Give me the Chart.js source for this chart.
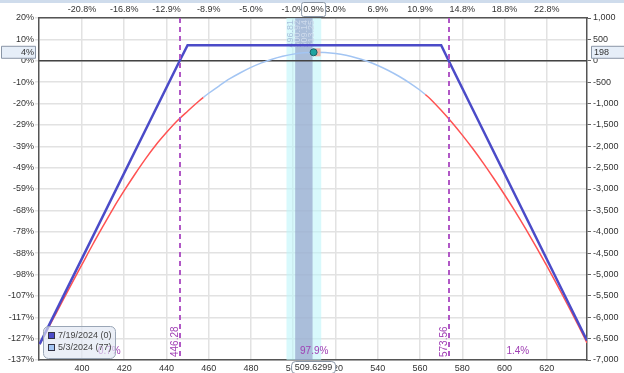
<!DOCTYPE html>
<html>
<head>
<meta charset="utf-8">
<script src="https://cdn.jsdelivr.net/npm/chart.js@4.4.1/dist/chart.umd.min.js"></script>
<style>
  html, body { margin: 0; padding: 0; background: #fff; }
  #wrap { width: 624px; height: 373px; position: relative; }
</style>
</head>
<body>
<div id="wrap"><canvas id="pnlChart"></canvas></div>
<script>
// Underlying price grid + P&L today (5/3/2024, 77 DTE)
const prices = [380, 385, 390, 395, 400, 405, 410, 415, 420, 425, 430, 435, 440, 445, 450, 455, 457.5,
  460, 465, 470, 475, 480, 485, 490, 495, 500, 505, 510, 515, 520, 525, 530, 535, 540, 545, 550, 555,
  560, 562.5, 565, 570, 575, 580, 585, 590, 595, 600, 605, 610, 615, 620, 625, 630, 635, 639];
const pnlToday = [-6630, -6170, -5700, -5230, -4770, -4310, -3870, -3440, -3040, -2660, -2300, -1970, -1680,
  -1410, -1180, -960, -855, -760, -585, -420, -280, -155, -50, 37, 105, 155, 187, 200, 194, 170, 127, 66,
  -13, -111, -228, -363, -516, -690, -790, -900, -1160, -1440, -1740, -2060, -2400, -2760, -3135, -3525,
  -3935, -4360, -4800, -5255, -5725, -6205, -6600];

// P&L at expiration (7/19/2024)
const expiryPrices = [380, 446.28, 450, 570, 573.56, 639];
const expiryPnl = [-6628, 0, 365, 365, 0, -6544];

// Axes
const xTicks = [400, 420, 440, 460, 480, 500, 520, 540, 560, 580, 600, 620];
const xTopLabels = ['-20.8%', '-16.8%', '-12.9%', '-8.9%', '-5.0%', '-1.0%', '3.0%', '6.9%', '10.9%', '14.8%', '18.8%', '22.8%'];
const pnlTicks = [1000, 500, 0, -500, -1000, -1500, -2000, -2500, -3000, -3500, -4000, -4500, -5000, -5500, -6000, -6500, -7000];
const pctLabels = ['20%', '10%', '0%', '-10%', '-20%', '-29%', '-39%', '-49%', '-59%', '-68%', '-78%', '-88%', '-98%', '-107%', '-117%', '-127%', '-137%'];

// Markers
const breakevens = [446.28, 573.56];
const bandOuter = [496.81, 513.25];
const bandInner = [500.92, 509.14];
const bandLabels = ['496.81', '500.92', '509.14', '513.25'];
const probLabels = ['0.7%', '97.9%', '1.4%'];
const currentPrice = 509.6299;
const currentPnl = 198;
const currentPct = '4%';
const currentMove = '0.9%';
const legendLabels = ['7/19/2024 (0)', '5/3/2024 (77)'];

const X_MIN = 379.7, X_MAX = 639;
const FONT = '"Liberation Sans", Arial, sans-serif';
const FS = 9;
const DARK_BLUE = '#4b4bc8';
const LIGHT_BLUE = '#a3c5f3';
const RED = '#ff5252';
const MAGENTA = '#b158c6';
const todayColorRange = [457.5, 562.5];

function box(ctx, x, y, w, h, r) {
  ctx.beginPath();
  if (ctx.roundRect) ctx.roundRect(x, y, w, h, r); else ctx.rect(x, y, w, h);
  ctx.fill();
  ctx.stroke();
}

const overlays = {
  id: 'overlays',
  beforeDraw(chart) {
    const { ctx } = chart;
    ctx.save();
    ctx.fillStyle = '#fff';
    ctx.fillRect(0, 0, chart.width, chart.height);
    ctx.fillStyle = '#cfdcec';
    ctx.fillRect(0, 0, chart.width, 3);
    ctx.restore();
  },
  beforeDatasetsDraw(chart) {
    const { ctx, chartArea: a, scales: { x, y } } = chart;
    ctx.save();
    // probability bands
    ctx.fillStyle = 'rgba(190,245,250,0.6)';
    ctx.fillRect(x.getPixelForValue(bandOuter[0]), a.top, x.getPixelForValue(bandOuter[1]) - x.getPixelForValue(bandOuter[0]), a.bottom - a.top);
    ctx.fillStyle = 'rgba(140,150,195,0.6)';
    ctx.fillRect(x.getPixelForValue(bandInner[0]), a.top, x.getPixelForValue(bandInner[1]) - x.getPixelForValue(bandInner[0]), a.bottom - a.top);
    // band labels
    ctx.font = '9px ' + FONT;
    ctx.textAlign = 'right';
    ctx.textBaseline = 'middle';
    const bx = x.getPixelForValue(bandOuter[0]);
    bandLabels.forEach((t, i) => {
      ctx.save();
      ctx.fillStyle = i === 0 ? '#a9c0dc' : '#cfdbec';
      ctx.translate(bx + 4 + i * 7, a.top + 2);
      ctx.rotate(-Math.PI / 2);
      ctx.fillText(t, 0, 0);
      ctx.restore();
    });
    // zero line
    const y0 = y.getPixelForValue(0);
    ctx.strokeStyle = '#444';
    ctx.lineWidth = 1.5;
    ctx.beginPath();
    ctx.moveTo(a.left, y0);
    ctx.lineTo(a.right, y0);
    ctx.stroke();
    ctx.restore();
  },
  afterDatasetsDraw(chart) {
    const { ctx, chartArea: a, scales: { x } } = chart;
    ctx.save();
    // breakeven lines
    ctx.strokeStyle = MAGENTA;
    ctx.lineWidth = 2;
    ctx.setLineDash([5, 4]);
    breakevens.forEach(b => {
      const px = Math.round(x.getPixelForValue(b));
      ctx.beginPath();
      ctx.moveTo(px, a.top);
      ctx.lineTo(px, a.bottom);
      ctx.stroke();
    });
    ctx.setLineDash([]);
    ctx.font = '10px ' + FONT;
    ctx.fillStyle = '#a040b4';
    ctx.textAlign = 'left';
    ctx.textBaseline = 'middle';
    breakevens.forEach(b => {
      ctx.save();
      ctx.translate(x.getPixelForValue(b) - 4, a.bottom - 3);
      ctx.rotate(-Math.PI / 2);
      ctx.fillText(b.toFixed(2), 0, 0);
      ctx.restore();
    });
    // probability labels between breakevens
    const edges = [X_MIN, breakevens[0], breakevens[1], X_MAX];
    ctx.textAlign = 'center';
    probLabels.forEach((t, i) => {
      const px = x.getPixelForValue((edges[i] + edges[i + 1]) / 2);
      ctx.fillText(t, px, a.bottom - 9);
    });
    ctx.restore();
  },
  afterDraw(chart) {
    const { ctx, chartArea: a, scales: { x, y } } = chart;
    const px = x.getPixelForValue(currentPrice);
    const py = y.getPixelForValue(currentPnl);
    ctx.save();
    // current position marker
    ctx.fillStyle = '#f2b3a6';
    ctx.fillRect(px + 1, py - 4, 6, 8);
    ctx.fillStyle = '#1fa3a0';
    ctx.strokeStyle = '#1d5f66';
    ctx.lineWidth = 1;
    ctx.beginPath();
    ctx.arc(px, py, 3.5, 0, Math.PI * 2);
    ctx.fill();
    ctx.stroke();

    // axis value boxes
    ctx.font = FS + 'px ' + FONT;
    ctx.textBaseline = 'middle';
    ctx.fillStyle = '#e6eef8';
    ctx.strokeStyle = '#8a96a6';
    ctx.lineWidth = 1;
    box(ctx, 1.5, py - 6, 34, 12, 0);
    box(ctx, a.right + 4.5, py - 6, 40, 12, 0);
    ctx.fillStyle = '#fff';
    box(ctx, px - 12, 2.5, 24, 14, 2);
    box(ctx, px - 22, a.bottom + 1.5, 44, 12, 4);
    ctx.fillStyle = '#333';
    ctx.textAlign = 'right';
    ctx.fillText(currentPct, 34, py);
    ctx.textAlign = 'left';
    ctx.fillText(String(currentPnl), a.right + 7, py);
    ctx.textAlign = 'center';
    ctx.fillText(currentMove, px, 10);
    ctx.fillText(currentPrice.toFixed(4), px, a.bottom + 8);

    // legend
    const lx = a.left + 4, ly = a.bottom - 34;
    ctx.fillStyle = 'rgba(224,231,242,0.65)';
    ctx.strokeStyle = '#9aa6b6';
    box(ctx, lx + 0.5, ly + 0.5, 72, 32, 5);
    const swatches = [DARK_BLUE, LIGHT_BLUE];
    legendLabels.forEach((t, i) => {
      const sy = ly + 6 + i * 12;
      ctx.fillStyle = swatches[i];
      ctx.strokeStyle = '#334';
      ctx.fillRect(lx + 5, sy, 7, 7);
      ctx.strokeRect(lx + 5.5, sy + 0.5, 6, 6);
      ctx.fillStyle = '#444';
      ctx.textAlign = 'left';
      ctx.fillText(t, lx + 15, sy + 4);
    });
    ctx.restore();
  }
};

const tickFont = { family: FONT, size: FS };

new Chart(document.getElementById('pnlChart'), {
  type: 'line',
  data: {
    datasets: [
      {
        label: legendLabels[0],
        data: expiryPrices.map((p, i) => ({ x: p, y: expiryPnl[i] })),
        borderColor: DARK_BLUE,
        borderWidth: 2.5,
        pointRadius: 0,
        tension: 0
      },
      {
        label: legendLabels[1],
        data: prices.map((p, i) => ({ x: p, y: pnlToday[i] })),
        borderColor: LIGHT_BLUE,
        borderWidth: 1.5,
        pointRadius: 0,
        cubicInterpolationMode: 'monotone',
        segment: {
          borderColor: c => (c.p0.parsed.x >= todayColorRange[0] && c.p1.parsed.x <= todayColorRange[1]) ? LIGHT_BLUE : RED
        }
      }
    ]
  },
  options: {
    responsive: true,
    maintainAspectRatio: false,
    animation: false,
    layout: { padding: 0 },
    plugins: { legend: { display: false }, tooltip: { enabled: false } },
    scales: {
      x: {
        type: 'linear', position: 'bottom', min: X_MIN, max: X_MAX,
        afterBuildTicks: s => { s.ticks = xTicks.map(v => ({ value: v })); },
        afterFit: s => { s.height = 13; },
        ticks: { color: '#333', font: tickFont, padding: 3, maxRotation: 0, callback: v => v },
        grid: { color: '#e2e2e2', lineWidth: 1.5, tickLength: 0 },
        border: { color: '#555', width: 1.5 }
      },
      xTop: {
        type: 'linear', position: 'top', min: X_MIN, max: X_MAX,
        afterBuildTicks: s => { s.ticks = xTicks.map(v => ({ value: v })); },
        afterFit: s => { s.height = 18; },
        ticks: { color: '#333', font: tickFont, padding: 3, maxRotation: 0,
          callback: v => xTopLabels[xTicks.indexOf(v)] },
        grid: { drawOnChartArea: false, tickLength: 0 },
        border: { color: '#555', width: 1.5 }
      },
      y: {
        type: 'linear', position: 'left', min: -7000, max: 1000,
        afterBuildTicks: s => { s.ticks = pnlTicks.map(v => ({ value: v })); },
        afterFit: s => { s.width = 39; },
        ticks: { color: '#333', font: tickFont, padding: 1,
          callback: v => pctLabels[pnlTicks.indexOf(v)] },
        grid: { color: '#e2e2e2', lineWidth: 1.5, tickLength: 4 },
        border: { color: '#555', width: 1.5 }
      },
      yRight: {
        type: 'linear', position: 'right', min: -7000, max: 1000,
        afterBuildTicks: s => { s.ticks = pnlTicks.map(v => ({ value: v })); },
        afterFit: s => { s.width = 37; },
        ticks: { color: '#333', font: tickFont, padding: 2,
          callback: v => v.toLocaleString('en-US') },
        grid: { drawOnChartArea: false, color: '#666', tickLength: 4 },
        border: { color: '#555', width: 1.5 }
      }
    }
  },
  plugins: [overlays]
});
</script>
</body>
</html>
